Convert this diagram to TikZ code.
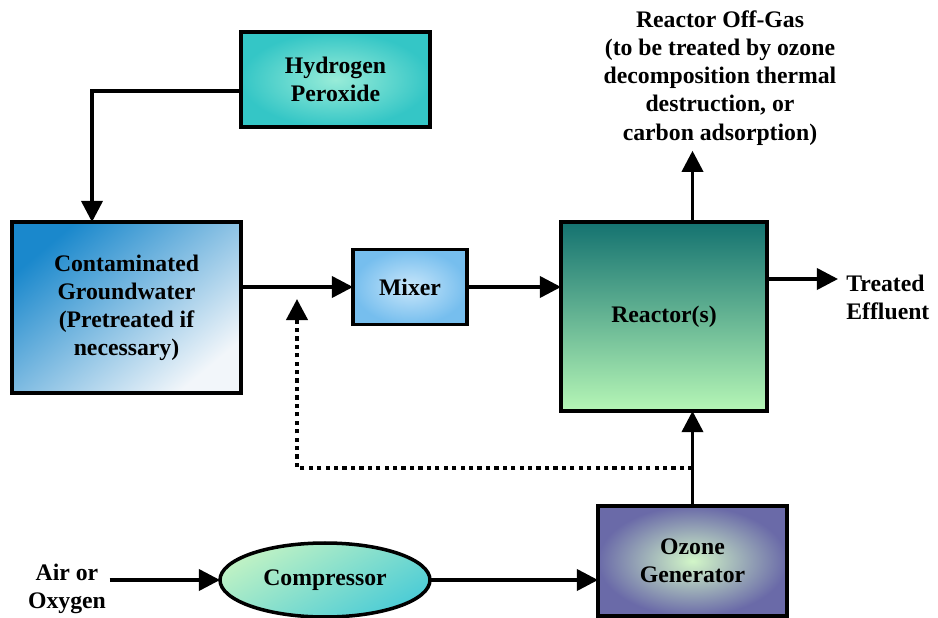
\documentclass[tikz,border=0pt]{standalone}
\usepackage{fontspec}
\setmainfont{Liberation Serif}[BoldFont={Liberation Serif Bold}]
\usetikzlibrary{shapes.geometric,calc,arrows.meta}

\definecolor{hpIn}{HTML}{98ECD8}
\definecolor{hpOut}{HTML}{34C6C6}
\definecolor{gwTop}{HTML}{1A88CC}
\definecolor{gwBot}{HTML}{F2F6FA}
\definecolor{mxIn}{HTML}{C8E6FA}
\definecolor{mxOut}{HTML}{76BEEE}
\definecolor{rcTop}{HTML}{147270}
\definecolor{rcBot}{HTML}{B6F6B6}
\definecolor{cpA}{HTML}{C0F2C4}
\definecolor{cpB}{HTML}{4CCCD6}
\definecolor{ozIn}{HTML}{D2F6C8}
\definecolor{ozOut}{HTML}{6A6AA8}

\tikzset{
    proc/.style = {
        draw, rectangle, align=center,
        line width=2.2pt,
        outer sep=0,
        inner sep=0,
        font=\bfseries\fontsize{13.5}{16}\selectfont
    },
    comp/.style = {
        draw, ellipse, align=center,
        line width=2pt,
        outer sep=0,
        inner sep=0,
        font=\bfseries\fontsize{13.5}{16}\selectfont
    },
    anno/.style = {
        align=center,
        inner sep=0,
        font=\bfseries\fontsize{13.5}{16}\selectfont
    },
    flow/.style = {
        line width=2pt, -{Triangle[length=12pt,width=12pt]}
    },
    feed/.style = {
        flow, line width=2.3pt, dash pattern=on 2.4pt off 2.4pt
    }
}

\begin{document}
\begin{tikzpicture}
\useasboundingbox (0,0) rectangle (18.76,12.34);

% 1. process boxes
\node[proc,minimum width=3.78cm,minimum height=1.9cm,inner color=hpIn,outer color=hpOut]
  (h2o2) at (6.71,10.75) {Hydrogen\\ Peroxide};
\node[proc,minimum width=4.58cm,minimum height=3.42cm,top color=gwTop,bottom color=gwBot,shading angle=40]
  (contam) at (2.53,6.19) {Contaminated\\ Groundwater\\ (Pretreated if\\ necessary)};
\node[proc,minimum width=2.28cm,minimum height=1.5cm,inner color=mxIn,outer color=mxOut]
  (mixer) at (8.2,6.6) {Mixer};
\node[proc,minimum width=4.12cm,minimum height=3.78cm,top color=rcTop,bottom color=rcBot]
  (reactor) at (13.28,6.01) {Reactor(s)};
\node[proc,minimum width=3.78cm,minimum height=2.2cm,inner color=ozIn,outer color=ozOut]
  (ozone) at (13.85,1.12) {Ozone\\ Generator};
\node[comp,minimum width=4.2cm,minimum height=1.48cm,top color=cpA,bottom color=cpB,shading angle=30]
  (compr) at (6.5,0.74) {Compressor};

% 2. free labels
\node[anno] (offgas) at (14.4,10.78) {Reactor Off-Gas\\ (to be treated by ozone\\ decomposition thermal\\ destruction, or\\ carbon adsorption)};
\node[anno,align=left,anchor=west] (effl) at (16.92,6.39) {Treated\\ Effluent};
\node[anno] (air) at (1.34,0.56) {Air or\\ Oxygen};

% 3. junction points
\coordinate (drop)  at ($(contam.north)+(-0.69,0)$);
\coordinate (out)   at (16.76,6.76);
\coordinate (split) at (ozone.north |- 0,2.98);
\coordinate (merge) at (5.94,6.36);

% 4. arrows
\draw[flow] ([yshift=-0.23cm]h2o2.west) -| (drop);
\draw[flow] (contam.east |- mixer.west) -- (mixer.west);
\draw[flow] (mixer.east) -- (mixer.east -| reactor.west);
\draw[flow] (reactor.east |- out) -- (out);
\draw[flow] (ozone.north |- reactor.north) -- ([yshift=-3pt]ozone.north |- offgas.south);
\draw[flow] (ozone.north) -- (ozone.north |- reactor.south);
\draw[flow] ([xshift=2pt]air.east |- compr.west) -- (compr.west);
\draw[flow] (compr.east) -- (compr.east -| ozone.west);
\draw[feed] (split) -| (merge);

\end{tikzpicture}
\end{document}
